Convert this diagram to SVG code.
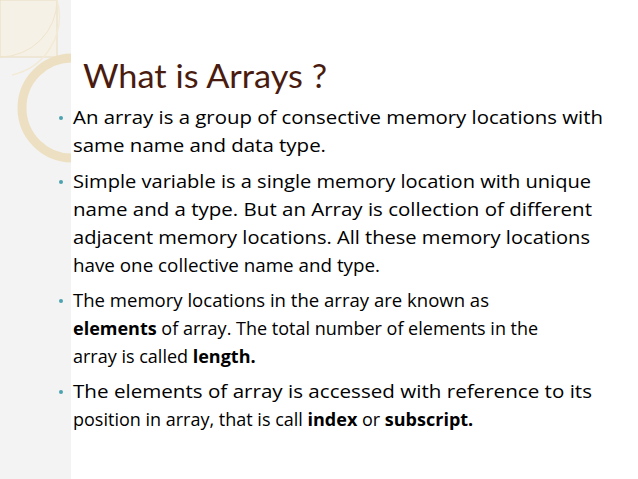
<svg xmlns="http://www.w3.org/2000/svg" width="638" height="479" viewBox="0 0 638 479">
<style>
.t{font-family:"Open Sans","Liberation Sans",sans-serif;font-size:18px;fill:#000}
.b{fill:#4ba3b0}
</style>
<defs><clipPath id="c"><rect x="0" y="0" width="71" height="479"/></clipPath></defs>
<rect width="638" height="479" fill="#fff"/>
<g id="deco">
<rect x="0" y="0" width="71" height="479" fill="#f3f3f3"/>
<g clip-path="url(#c)">
<rect x="0" y="0" width="57" height="57" fill="#f6f1e6" stroke="#e8dcc0" stroke-width="1"/>
<path d="M0,57 A57,57 0 0 0 57,0" fill="none" stroke="#efe4cc" stroke-width="1"/>
<path d="M57,0 A60,60 0 0 1 12,75" fill="none" stroke="#f3ead6" stroke-width="1.5"/>
<circle cx="72" cy="108" r="50" fill="none" stroke="#ede0c2" stroke-width="9"/>
</g>
</g>
<g id="title"><text x="83" y="88" font-family="Gill Sans,'Lato','Liberation Sans',sans-serif" font-size="33" fill="#4a1c10" textLength="244" lengthAdjust="spacingAndGlyphs">What is Arrays ?</text></g>
<g id="body" class="t">
<circle class="b" cx="61" cy="118" r="2"/>
<text x="73" y="124" textLength="530" lengthAdjust="spacingAndGlyphs">An array is a group of consective memory locations with</text>
<text x="73" y="152" textLength="253" lengthAdjust="spacingAndGlyphs">same name and data type.</text>
<circle class="b" cx="61" cy="182" r="2"/>
<text x="73" y="188" textLength="518" lengthAdjust="spacingAndGlyphs">Simple variable is a single memory location with unique</text>
<text x="73" y="216" textLength="519" lengthAdjust="spacingAndGlyphs">name and a type.  But an Array is collection of different</text>
<text x="73" y="244" textLength="517" lengthAdjust="spacingAndGlyphs">adjacent memory locations. All these memory locations</text>
<text x="73" y="272" textLength="307" lengthAdjust="spacingAndGlyphs">have one collective name and type.</text>
<circle class="b" cx="61" cy="301" r="2"/>
<text x="73" y="307" textLength="416" lengthAdjust="spacingAndGlyphs">The memory locations in the array are known as</text>
<text x="73" y="335"><tspan font-weight="bold">elements</tspan> of array. The total number of elements in the</text>
<text x="73" y="363">array is called <tspan font-weight="bold">length.</tspan></text>
<circle class="b" cx="61" cy="392" r="2"/>
<text x="73" y="398" textLength="519" lengthAdjust="spacingAndGlyphs">The elements of array is accessed  with reference to its</text>
<text x="73" y="426">position in array, that is call <tspan font-weight="bold">index</tspan> or <tspan font-weight="bold">subscript.</tspan></text>
</g>
</svg>
